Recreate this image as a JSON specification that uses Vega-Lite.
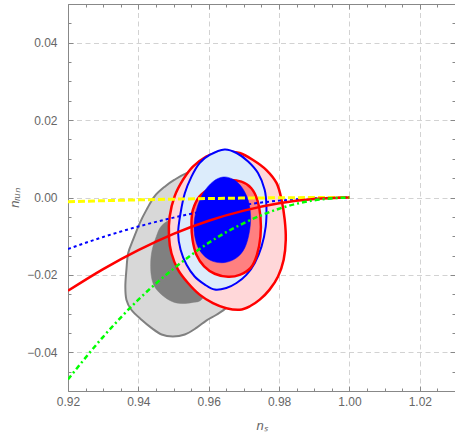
{
  "$schema": "https://vega.github.io/schema/vega-lite/v6.json",
  "autosize": "none",
  "padding": {"left": 68, "top": 4, "right": 0, "bottom": 48},
  "width": 387,
  "height": 387,
  "background": "white",
  "config": {"view": {"stroke": null}},
  "datasets": {
    "c": [
      {"g":"go","i":1,"x":0.9537,"y":0.0063},{"g":"go","i":2,"x":0.9503,"y":0.0046},{"g":"go","i":3,"x":0.9475,"y":0.0028},{"g":"go","i":4,"x":0.9446,"y":0.0003},{"g":"go","i":5,"x":0.9423,"y":-0.0032},{"g":"go","i":6,"x":0.9404,"y":-0.0066},{"g":"go","i":7,"x":0.9385,"y":-0.0109},{"g":"go","i":8,"x":0.9371,"y":-0.0144},{"g":"go","i":9,"x":0.9366,"y":-0.0187},{"g":"go","i":10,"x":0.9363,"y":-0.0230},{"g":"go","i":11,"x":0.9366,"y":-0.0264},{"g":"go","i":12,"x":0.9380,"y":-0.0290},{"g":"go","i":13,"x":0.9409,"y":-0.0316},{"g":"go","i":14,"x":0.9437,"y":-0.0337},{"g":"go","i":15,"x":0.9466,"y":-0.0354},{"g":"go","i":16,"x":0.9498,"y":-0.0359},{"g":"go","i":17,"x":0.9532,"y":-0.0354},{"g":"go","i":18,"x":0.9565,"y":-0.0337},{"g":"go","i":19,"x":0.9593,"y":-0.0318},{"g":"go","i":20,"x":0.9622,"y":-0.0303},{"g":"go","i":21,"x":0.9652,"y":-0.0283},{"g":"go","i":22,"x":0.9688,"y":-0.0238},{"g":"go","i":23,"x":0.9690,"y":-0.0150},{"g":"go","i":24,"x":0.9682,"y":-0.0060},{"g":"go","i":25,"x":0.9660,"y":0.0010},{"g":"go","i":26,"x":0.9626,"y":0.0058},{"g":"go","i":27,"x":0.9583,"y":0.0076},
      {"g":"gi","i":1,"x":0.9500,"y":-0.0052},{"g":"gi","i":2,"x":0.9466,"y":-0.0073},{"g":"gi","i":3,"x":0.9451,"y":-0.0101},{"g":"gi","i":4,"x":0.9439,"y":-0.0136},{"g":"gi","i":5,"x":0.9435,"y":-0.0169},{"g":"gi","i":6,"x":0.9437,"y":-0.0204},{"g":"gi","i":7,"x":0.9446,"y":-0.0230},{"g":"gi","i":8,"x":0.9466,"y":-0.0251},{"g":"gi","i":9,"x":0.9494,"y":-0.0268},{"g":"gi","i":10,"x":0.9522,"y":-0.0274},{"g":"gi","i":11,"x":0.9555,"y":-0.0271},{"g":"gi","i":12,"x":0.9579,"y":-0.0264},{"g":"gi","i":13,"x":0.9609,"y":-0.0226},{"g":"gi","i":14,"x":0.9617,"y":-0.0135},{"g":"gi","i":15,"x":0.9574,"y":-0.0045},{"g":"gi","i":16,"x":0.9532,"y":-0.0037},
      {"g":"po","i":1,"x":0.9622,"y":0.0115},{"g":"po","i":2,"x":0.9593,"y":0.0106},{"g":"po","i":3,"x":0.9555,"y":0.0080},{"g":"po","i":4,"x":0.9527,"y":0.0046},{"g":"po","i":5,"x":0.9503,"y":0.0003},{"g":"po","i":6,"x":0.9489,"y":-0.0049},{"g":"po","i":7,"x":0.9487,"y":-0.0101},{"g":"po","i":8,"x":0.9494,"y":-0.0144},{"g":"po","i":9,"x":0.9513,"y":-0.0187},{"g":"po","i":10,"x":0.9541,"y":-0.0221},{"g":"po","i":11,"x":0.9574,"y":-0.0251},{"g":"po","i":12,"x":0.9612,"y":-0.0273},{"g":"po","i":13,"x":0.9650,"y":-0.0286},{"g":"po","i":14,"x":0.9688,"y":-0.0290},{"g":"po","i":15,"x":0.9717,"y":-0.0281},{"g":"po","i":16,"x":0.9745,"y":-0.0264},{"g":"po","i":17,"x":0.9773,"y":-0.0238},{"g":"po","i":18,"x":0.9797,"y":-0.0204},{"g":"po","i":19,"x":0.9813,"y":-0.0161},{"g":"po","i":20,"x":0.9819,"y":-0.0109},{"g":"po","i":21,"x":0.9816,"y":-0.0058},{"g":"po","i":22,"x":0.9807,"y":-0.0006},{"g":"po","i":23,"x":0.9793,"y":0.0037},{"g":"po","i":24,"x":0.9764,"y":0.0071},{"g":"po","i":25,"x":0.9726,"y":0.0097},{"g":"po","i":26,"x":0.9688,"y":0.0115},{"g":"po","i":27,"x":0.9650,"y":0.0119},
      {"g":"bo","i":1,"x":0.9645,"y":0.0124},{"g":"bo","i":2,"x":0.9603,"y":0.0110},{"g":"bo","i":3,"x":0.9574,"y":0.0089},{"g":"bo","i":4,"x":0.9551,"y":0.0054},{"g":"bo","i":5,"x":0.9532,"y":0.0011},{"g":"bo","i":6,"x":0.9520,"y":-0.0040},{"g":"bo","i":7,"x":0.9513,"y":-0.0092},{"g":"bo","i":8,"x":0.9520,"y":-0.0135},{"g":"bo","i":9,"x":0.9537,"y":-0.0174},{"g":"bo","i":10,"x":0.9560,"y":-0.0204},{"g":"bo","i":11,"x":0.9589,"y":-0.0225},{"g":"bo","i":12,"x":0.9617,"y":-0.0238},{"g":"bo","i":13,"x":0.9650,"y":-0.0234},{"g":"bo","i":14,"x":0.9679,"y":-0.0221},{"g":"bo","i":15,"x":0.9707,"y":-0.0200},{"g":"bo","i":16,"x":0.9731,"y":-0.0169},{"g":"bo","i":17,"x":0.9750,"y":-0.0127},{"g":"bo","i":18,"x":0.9762,"y":-0.0075},{"g":"bo","i":19,"x":0.9764,"y":-0.0023},{"g":"bo","i":20,"x":0.9759,"y":0.0020},{"g":"bo","i":21,"x":0.9740,"y":0.0063},{"g":"bo","i":22,"x":0.9712,"y":0.0093},{"g":"bo","i":23,"x":0.9679,"y":0.0115},
      {"g":"pi","i":1,"x":0.9650,"y":0.0044},{"g":"pi","i":2,"x":0.9612,"y":0.0028},{"g":"pi","i":3,"x":0.9574,"y":0.0003},{"g":"pi","i":4,"x":0.9555,"y":-0.0032},{"g":"pi","i":5,"x":0.9551,"y":-0.0066},{"g":"pi","i":6,"x":0.9554,"y":-0.0109},{"g":"pi","i":7,"x":0.9565,"y":-0.0148},{"g":"pi","i":8,"x":0.9587,"y":-0.0178},{"g":"pi","i":9,"x":0.9617,"y":-0.0197},{"g":"pi","i":10,"x":0.9655,"y":-0.0205},{"g":"pi","i":11,"x":0.9688,"y":-0.0200},{"g":"pi","i":12,"x":0.9719,"y":-0.0182},{"g":"pi","i":13,"x":0.9737,"y":-0.0148},{"g":"pi","i":14,"x":0.9747,"y":-0.0101},{"g":"pi","i":15,"x":0.9747,"y":-0.0049},{"g":"pi","i":16,"x":0.9738,"y":-0.0006},{"g":"pi","i":17,"x":0.9721,"y":0.0024},{"g":"pi","i":18,"x":0.9693,"y":0.0041},
      {"g":"bi","i":1,"x":0.9641,"y":0.0053},{"g":"bi","i":2,"x":0.9612,"y":0.0041},{"g":"bi","i":3,"x":0.9584,"y":0.0011},{"g":"bi","i":4,"x":0.9565,"y":-0.0032},{"g":"bi","i":5,"x":0.9558,"y":-0.0075},{"g":"bi","i":6,"x":0.9565,"y":-0.0118},{"g":"bi","i":7,"x":0.9584,"y":-0.0148},{"g":"bi","i":8,"x":0.9612,"y":-0.0165},{"g":"bi","i":9,"x":0.9646,"y":-0.0168},{"g":"bi","i":10,"x":0.9679,"y":-0.0156},{"g":"bi","i":11,"x":0.9702,"y":-0.0131},{"g":"bi","i":12,"x":0.9715,"y":-0.0092},{"g":"bi","i":13,"x":0.9719,"y":-0.0049},{"g":"bi","i":14,"x":0.9712,"y":-0.0006},{"g":"bi","i":15,"x":0.9693,"y":0.0028},{"g":"bi","i":16,"x":0.9669,"y":0.0047}
    ],
    "l": [
      {"s":"yel","i":1,"x":0.92,"y":-0.0011},{"s":"yel","i":2,"x":0.93,"y":-0.00083},{"s":"yel","i":3,"x":0.94,"y":-0.00061},{"s":"yel","i":4,"x":0.95,"y":-0.00043},{"s":"yel","i":5,"x":0.96,"y":-0.00027},{"s":"yel","i":6,"x":0.97,"y":-0.00015},{"s":"yel","i":7,"x":0.98,"y":-0.00007},{"s":"yel","i":8,"x":0.99,"y":-0.00002},{"s":"yel","i":9,"x":1.0,"y":0},
      {"s":"blu","i":1,"x":0.92,"y":-0.0133},{"s":"blu","i":2,"x":0.93,"y":-0.0102},{"s":"blu","i":3,"x":0.94,"y":-0.0075},{"s":"blu","i":4,"x":0.95,"y":-0.0052},{"s":"blu","i":5,"x":0.96,"y":-0.0033},{"s":"blu","i":6,"x":0.97,"y":-0.0019},{"s":"blu","i":7,"x":0.98,"y":-0.0008},{"s":"blu","i":8,"x":0.99,"y":-0.0002},{"s":"blu","i":9,"x":1.0,"y":0},
      {"s":"red","i":1,"x":0.92,"y":-0.0241},{"s":"red","i":2,"x":0.93,"y":-0.0185},{"s":"red","i":3,"x":0.94,"y":-0.0136},{"s":"red","i":4,"x":0.95,"y":-0.0094},{"s":"red","i":5,"x":0.96,"y":-0.0060},{"s":"red","i":6,"x":0.97,"y":-0.0034},{"s":"red","i":7,"x":0.98,"y":-0.0015},{"s":"red","i":8,"x":0.99,"y":-0.0004},{"s":"red","i":9,"x":1.0,"y":0},
      {"s":"grn","i":1,"x":0.92,"y":-0.0470},{"s":"grn","i":2,"x":0.93,"y":-0.0360},{"s":"grn","i":3,"x":0.94,"y":-0.0264},{"s":"grn","i":4,"x":0.95,"y":-0.0184},{"s":"grn","i":5,"x":0.96,"y":-0.0117},{"s":"grn","i":6,"x":0.97,"y":-0.0066},{"s":"grn","i":7,"x":0.98,"y":-0.0029},{"s":"grn","i":8,"x":0.99,"y":-0.0007},{"s":"grn","i":9,"x":1.0,"y":0}
    ]
  },
  "encoding": {
    "x": {"field": "x", "type": "quantitative", "scale": {"domain": [0.92, 1.03], "nice": false, "zero": false}, "axis": null},
    "y": {"field": "y", "type": "quantitative", "scale": {"domain": [-0.05, 0.05], "nice": false, "zero": false}, "axis": null},
    "order": {"field": "i", "type": "quantitative"}
  },
  "resolve": {"axis": {"x": "independent", "y": "independent"}},
  "layer": [
    {
      "data": {"name": "c"},
      "transform": [{"filter": "datum.g === 'go'"}],
      "mark": {"type": "line", "interpolate": "cardinal-closed", "fill": "#d8d8d8", "stroke": "#808080", "strokeWidth": 2, "clip": true},
      "encoding": {
        "x": {"field": "x", "type": "quantitative", "scale": {"domain": [0.92, 1.03], "nice": false, "zero": false},
          "axis": {"orient": "bottom",
            "values": [0.92,0.925,0.93,0.935,0.94,0.945,0.95,0.955,0.96,0.965,0.97,0.975,0.98,0.985,0.99,0.995,1.0,1.005,1.01,1.015,1.02,1.025,1.03],
            "labelExpr": "abs(datum.value*50-round(datum.value*50))<0.01 ? format(datum.value,'.2f') : ''",
            "labelFlush": false, "labelOverlap": false, "labelPadding": 10,
            "labelFont": "Liberation Sans", "labelFontSize": 12, "labelColor": "#666666",
            "tickColor": "#888888", "tickWidth": 1,
            "tickSize": {"condition": {"test": "abs(datum.value*50-round(datum.value*50))<0.01", "value": -5}, "value": -3},
            "grid": true, "gridColor": "#d2d2d2", "gridDash": [5, 3.5], "gridWidth": 1,
            "gridOpacity": {"condition": {"test": "abs(datum.value*50-round(datum.value*50))<0.01 && datum.value>0.93", "value": 1}, "value": 0},
            "domain": true, "domainColor": "#888888", "domainWidth": 1,
            "title": "nₛ", "titleFont": "Liberation Sans", "titleFontSize": 13, "titleFontStyle": "italic", "titleFontWeight": "normal", "titleColor": "#666666", "titlePadding": 10}},
        "y": {"field": "y", "type": "quantitative", "scale": {"domain": [-0.05, 0.05], "nice": false, "zero": false},
          "axis": {"orient": "left",
            "values": [-0.05,-0.045,-0.04,-0.035,-0.03,-0.025,-0.02,-0.015,-0.01,-0.005,0,0.005,0.01,0.015,0.02,0.025,0.03,0.035,0.04,0.045,0.05],
            "labelExpr": "abs(datum.value*50-round(datum.value*50))<0.01 ? format(datum.value,'.2f') : ''",
            "labelFlush": false, "labelOverlap": false, "labelPadding": 16,
            "labelFont": "Liberation Sans", "labelFontSize": 12, "labelColor": "#666666",
            "tickColor": "#888888", "tickWidth": 1,
            "tickSize": {"condition": {"test": "abs(datum.value*50-round(datum.value*50))<0.01", "value": -5}, "value": -3},
            "grid": true, "gridColor": "#d2d2d2", "gridDash": [5, 3.5], "gridWidth": 1,
            "gridOpacity": {"condition": {"test": "abs(datum.value*50-round(datum.value*50))<0.01", "value": 1}, "value": 0},
            "domain": true, "domainColor": "#888888", "domainWidth": 1,
            "title": "nᵣᵤₙ", "titleFont": "Liberation Sans", "titleFontSize": 13, "titleFontStyle": "italic", "titleFontWeight": "normal", "titleColor": "#666666", "titlePadding": 5}}
      }
    },
    {
      "data": {"name": "c"},
      "transform": [{"filter": "datum.g === 'gi'"}],
      "mark": {"type": "line", "interpolate": "cardinal-closed", "fill": "#808080", "stroke": "#808080", "strokeWidth": 0.5, "clip": true},
      "encoding": {
        "x": {"field": "x", "type": "quantitative",
          "axis": {"orient": "top",
            "values": [0.92,0.925,0.93,0.935,0.94,0.945,0.95,0.955,0.96,0.965,0.97,0.975,0.98,0.985,0.99,0.995,1.0,1.005,1.01,1.015,1.02,1.025,1.03],
            "labels": false, "grid": false, "title": null,
            "tickColor": "#888888", "tickWidth": 1,
            "tickSize": {"condition": {"test": "abs(datum.value*50-round(datum.value*50))<0.01", "value": -5}, "value": -3},
            "domain": true, "domainColor": "#888888", "domainWidth": 1}},
        "y": {"field": "y", "type": "quantitative",
          "axis": {"orient": "right",
            "values": [-0.05,-0.045,-0.04,-0.035,-0.03,-0.025,-0.02,-0.015,-0.01,-0.005,0,0.005,0.01,0.015,0.02,0.025,0.03,0.035,0.04,0.045,0.05],
            "labels": false, "grid": false, "title": null,
            "tickColor": "#888888", "tickWidth": 1,
            "tickSize": {"condition": {"test": "abs(datum.value*50-round(datum.value*50))<0.01", "value": -5}, "value": -3},
            "domain": true, "domainColor": "#888888", "domainWidth": 1}}
      }
    },
    {
      "data": {"name": "c"},
      "transform": [{"filter": "datum.g === 'po'"}],
      "mark": {"type": "line", "interpolate": "cardinal-closed", "fill": "#ffd7d9", "stroke": "#ff0000", "strokeWidth": 2.5, "clip": true}
    },
    {
      "data": {"name": "c"},
      "transform": [{"filter": "datum.g === 'bo'"}],
      "mark": {"type": "line", "interpolate": "cardinal-closed", "fill": "#dcecfb", "stroke": "#0000ff", "strokeWidth": 2, "clip": true}
    },
    {
      "data": {"name": "c"},
      "transform": [{"filter": "datum.g === 'pi'"}],
      "mark": {"type": "line", "interpolate": "cardinal-closed", "fill": "#ff8080", "stroke": "#ff0000", "strokeWidth": 2.5, "clip": true}
    },
    {
      "data": {"name": "l"},
      "transform": [{"filter": "datum.s === 'blu'"}],
      "mark": {"type": "line", "interpolate": "monotone", "stroke": "#0000ff", "strokeWidth": 2, "strokeDash": [3, 3], "clip": true}
    },
    {
      "data": {"name": "c"},
      "transform": [{"filter": "datum.g === 'bi'"}],
      "mark": {"type": "line", "interpolate": "cardinal-closed", "fill": "#0000ff", "stroke": "#0000ff", "strokeWidth": 0.5, "clip": true}
    },
    {
      "data": {"name": "l"},
      "transform": [{"filter": "datum.s === 'yel'"}],
      "mark": {"type": "line", "interpolate": "monotone", "stroke": "#ffff00", "strokeWidth": 3, "strokeDash": [7, 3], "clip": true}
    },
    {
      "data": {"name": "l"},
      "transform": [{"filter": "datum.s === 'red'"}],
      "mark": {"type": "line", "interpolate": "monotone", "stroke": "#ff0000", "strokeWidth": 2.5, "clip": true}
    },
    {
      "data": {"name": "l"},
      "transform": [{"filter": "datum.s === 'grn'"}],
      "mark": {"type": "line", "interpolate": "monotone", "stroke": "#00ff00", "strokeWidth": 2.5, "strokeDash": [5, 3, 2, 3], "clip": true}
    }
  ]
}
